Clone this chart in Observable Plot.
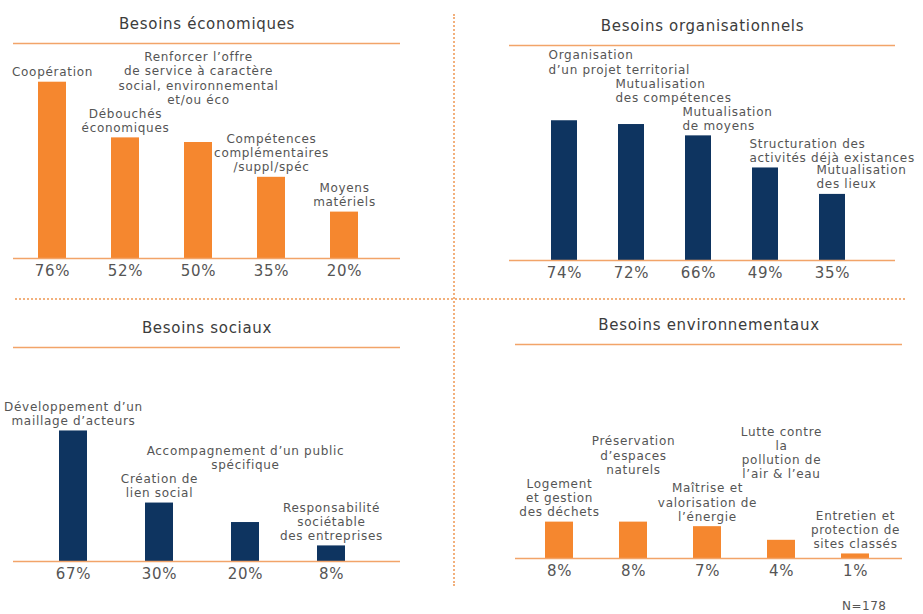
<!DOCTYPE html>
<html>
<head>
<meta charset="utf-8">
<script src="https://cdn.jsdelivr.net/npm/d3@7"></script>
<script src="https://cdn.jsdelivr.net/npm/@observablehq/plot@0.6"></script>
<style>
  body { margin: 0; background: #fff; }
  #root { position: relative; width: 923px; height: 614px; overflow: hidden; font-family: 'DejaVu Sans', sans-serif; background: #fff; }
  .panel { position: absolute; }
  .vdiv { position: absolute; left: 453px; top: 14px; height: 572px; border-left: 2px dotted #f2b07c; }
  .hdiv { position: absolute; left: 15px; top: 298px; width: 890px; border-top: 2px dotted #f2b07c; }
  #note { position: absolute; left: 842px; top: 599px; font-size: 12px; letter-spacing: 0.5px; color: #555; }
</style>
</head>
<body>
<div id="root"></div>
<script>
// ---------- DATA ----------
const panelTitles = ["Besoins économiques", "Besoins organisationnels", "Besoins sociaux", "Besoins environnementaux"];

const econCategories = [
  "Coopération",
  "Débouchés\néconomiques",
  "Renforcer l’offre\nde service à caractère\nsocial, environnemental\net/ou éco",
  "Compétences\ncomplémentaires\n/suppl/spéc",
  "Moyens\nmatériels"
];
const econValues = [76, 52, 50, 35, 20];

const orgCategories = [
  "Organisation\nd’un projet territorial",
  "Mutualisation\ndes compétences",
  "Mutualisation\nde moyens",
  "Structuration des\nactivités déjà existances",
  "Mutualisation\ndes lieux"
];
const orgValues = [74, 72, 66, 49, 35];

const socCategories = [
  "Développement d’un\nmaillage d’acteurs",
  "Création de\nlien social",
  "Accompagnement d’un public\nspécifique",
  "Responsabilité\nsociétable\ndes entreprises"
];
const socValues = [67, 30, 20, 8];

const envCategories = [
  "Logement\net gestion\ndes déchets",
  "Préservation\nd’espaces\nnaturels",
  "Maîtrise et\nvalorisation de\nl’énergie",
  "Lutte contre\nla\npollution de\nl’air & l’eau",
  "Entretien et\nprotection de\nsites classés"
];
const envValues = [8, 8, 7, 4, 1];

const sampleNote = "N=178";

// ---------- STYLE / LAYOUT ----------
const ORANGE = "#f5872f";
const NAVY = "#0e3460";
const RULE = "#f2a469";
const TEXT = "#555555";
const FONT = "'DejaVu Sans', sans-serif";
const FS = 12, LH = 1.18, LS = 0.7, HGAP = 6;

const panels = [
  {cats: econCategories, vals: econValues, title: panelTitles[0], color: ORANGE, order: "ltr",
   left: 0, top: 0, width: 455, height: 298, mt: 43, mb: 40, ml: 13, mr: 55, insetL: 0, insetR: 18, pad: 0.62, frac: 0.82, anchor: "middle"},
  {cats: orgCategories, vals: orgValues, title: panelTitles[1], color: NAVY, order: "rtl",
   left: 460, top: 0, width: 463, height: 298, mt: 45, mb: 38, ml: 49, mr: 28, insetL: 21, insetR: 28, pad: 0.61, frac: 0.65, anchor: "start"},
  {cats: socCategories, vals: socValues, title: panelTitles[2], color: NAVY, order: "ltr",
   left: 0, top: 300, width: 455, height: 300, mt: 47, mb: 39, ml: 13, mr: 55, insetL: 17, insetR: 25, pad: 0.67, frac: 0.61, anchor: "middle"},
  {cats: envCategories, vals: envValues, title: panelTitles[3], color: ORANGE, order: "ltr",
   left: 460, top: 300, width: 463, height: 300, mt: 44, mb: 42, ml: 55, mr: 21, insetL: 6, insetR: 9, pad: 0.62, frac: 0.17, anchor: "middle"}
];

function build(p, labelYs) {
  const data = p.cats.map((c, i) => ({cat: c, value: p.vals[i]}));
  const pct = new Map(p.cats.map((c, i) => [c, p.vals[i] + "%"]));
  const yMax = d3.max(p.vals) / p.frac;
  const marks = [
    Plot.barY(data, {x: "cat", y: "value", fill: p.color}),
    Plot.ruleY([0, yMax], {stroke: RULE, strokeWidth: 1.6}),
    Plot.axisX({tickFormat: d => pct.get(d), tickSize: 0, tickPadding: 7, fontSize: 15, fill: TEXT, label: null}),
    Plot.text([p.title], {text: d => d, frameAnchor: "top", dy: -19, lineAnchor: "middle", fontSize: 15, fill: "#3c3c3c"})
  ];
  if (labelYs) {
    marks.push(Plot.text(data, {
      x: "cat", y: (d, i) => labelYs[i], text: "cat",
      lineAnchor: "bottom", textAnchor: p.anchor,
      dx: p.anchor === "start" ? -p.bw / 2 - 3 : 0,
      fontSize: FS, lineHeight: LH, fill: TEXT
    }));
  }
  return Plot.plot({
    width: p.width, height: p.height,
    marginTop: p.mt, marginBottom: p.mb, marginLeft: p.ml, marginRight: p.mr,
    x: {domain: p.cats, paddingInner: p.pad, paddingOuter: p.pad / 2, insetLeft: p.insetL, insetRight: p.insetR, axis: null},
    y: {domain: [0, yMax], axis: null},
    style: {fontFamily: FONT, letterSpacing: LS + "px", background: "transparent", overflow: "visible", color: TEXT},
    marks
  });
}

const ctx = document.createElement("canvas").getContext("2d");
ctx.font = `${FS}px 'DejaVu Sans'`;
const textWidth = s => ctx.measureText(s).width + LS * [...s].length;

function layoutLabels(p, chart) {
  const x = chart.scale("x"), y = chart.scale("y");
  const bw = x.bandwidth;
  p.bw = bw;
  const lh = FS * LH;
  const placed = [];
  const ys = new Array(p.cats.length);
  const idx = d3.range(p.cats.length);
  if (p.order === "rtl") idx.reverse();
  for (const i of idx) {
    const c = p.cats[i];
    const lines = c.split("\n");
    const n = lines.length;
    const widths = lines.map(textWidth);
    const start = x.apply(c);
    const cx = start + bw / 2;
    const boxes = base => lines.map((l, k) => {
      const b = base - (n - 1 - k) * lh;
      const xa = p.anchor === "middle" ? cx - widths[k] / 2 : start - 3;
      return {x0: xa, x1: xa + widths[k], top: b - 0.76 * FS, bot: b + 0.24 * FS};
    });
    let base = y.apply(p.vals[i]) - 6;
    let moved = true, guard = 0;
    while (moved && guard++ < 30) {
      moved = false;
      const mine = boxes(base);
      for (const q of placed) {
        const hit = mine.some(a => q.boxes.some(b =>
          a.x0 < b.x1 + HGAP && a.x1 > b.x0 - HGAP && a.top < b.bot && a.bot > b.top));
        if (hit) {
          base = d3.min(q.boxes, b => b.top) - 2 - 0.24 * FS;
          moved = true;
          break;
        }
      }
    }
    placed.push({boxes: boxes(base)});
    ys[i] = y.invert(base);
  }
  return ys;
}

const root = document.getElementById("root");
for (const p of panels) {
  const first = build(p, null);
  const ys = layoutLabels(p, first);
  const chart = build(p, ys);
  const div = document.createElement("div");
  div.className = "panel";
  div.style.left = p.left + "px";
  div.style.top = p.top + "px";
  div.appendChild(chart);
  root.appendChild(div);
}
const v = document.createElement("div"); v.className = "vdiv"; root.appendChild(v);
const h = document.createElement("div"); h.className = "hdiv"; root.appendChild(h);
const n = document.createElement("div"); n.id = "note"; n.textContent = sampleNote; root.appendChild(n);
</script>
</body>
</html>
